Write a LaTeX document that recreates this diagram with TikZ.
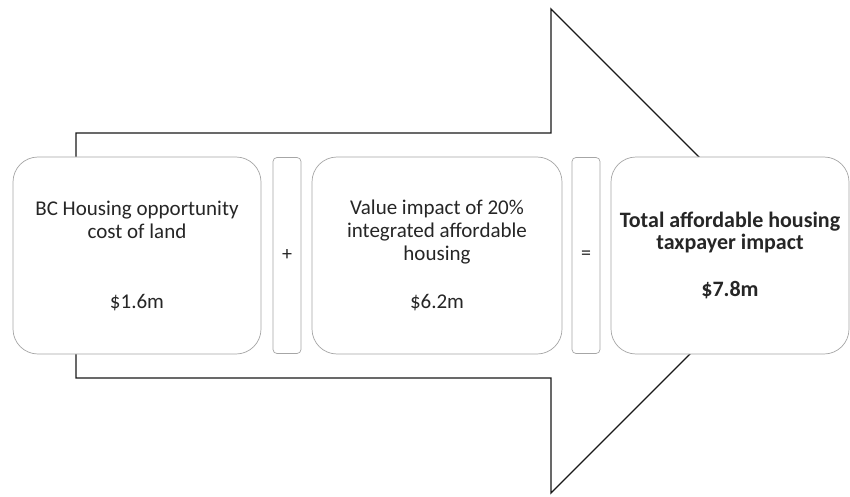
\documentclass[tikz,border=0pt]{standalone}
\usepackage{fontspec}
\setmainfont{Carlito}
\begin{document}
\begin{tikzpicture}[x=1pt,y=-1pt,
  bigarrow/.style={draw=black!90, line width=1.3pt, line join=miter, fill=white},
  panel/.style={draw=gray!70, line width=0.7pt, fill=white, rounded corners=25pt,
    minimum width=#1, minimum height=197pt, inner sep=0pt, align=center,
    text=black!85, font=\fontsize{21}{23}\selectfont},
  opbox/.style={draw=gray!70, line width=0.7pt, fill=white, rounded corners=4pt,
    minimum width=28pt, minimum height=196pt, inner sep=0pt,
    text=black!85, font=\fontsize{20}{22}\selectfont}]
\useasboundingbox (0,0) rectangle (850,497);

% block arrow behind the panels
\draw[bigarrow] (76,133) -- (551,133) -- (551,9) -- (793,251)
  -- (551,493) -- (551,378) -- (76,378) -- cycle;

% panels and operators
\node[panel=248pt] (land) at (137,255.5)
  {BC Housing opportunity\\cost of land\\[47pt]\$1.6m};
\node[opbox] (plus) at (287,255.5) {+};
\node[panel=250pt] (value) at (437,255.5)
  {Value impact of 20\%\\integrated affordable\\housing\\[25pt]\$6.2m};
\node[opbox] (equals) at (586,255.5) {=};
\node[panel=238pt, font=\bfseries\fontsize{22}{22}\selectfont] (total) at (730,255.5)
  {Total affordable housing\\taxpayer impact\\[25pt]\$7.8m};
\end{tikzpicture}
\end{document}
